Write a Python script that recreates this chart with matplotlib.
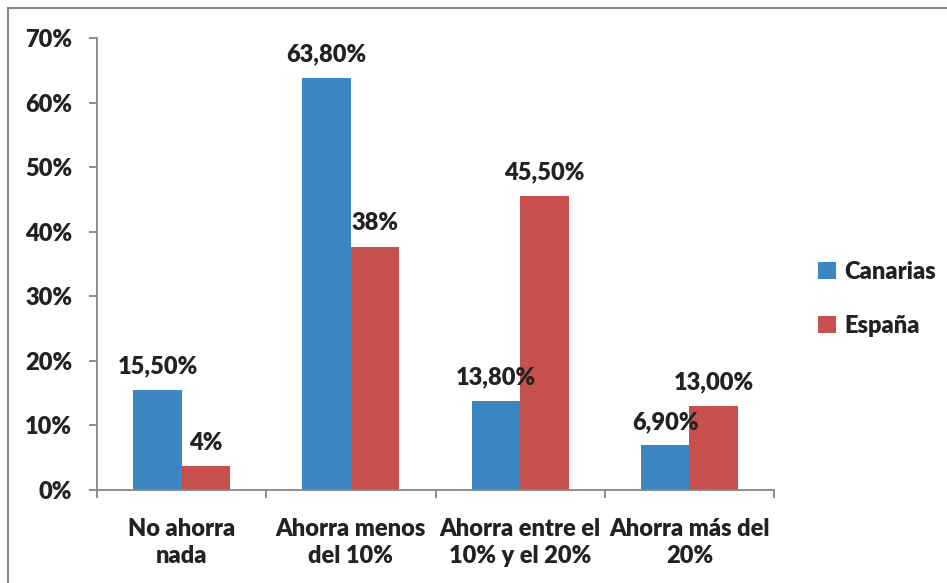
import numpy as np
import matplotlib
matplotlib.use('Agg')
import matplotlib.pyplot as plt
from matplotlib.patches import Rectangle

categories = ['No ahorra\nnada', 'Ahorra menos\ndel 10%', 'Ahorra entre el\n10% y el 20%', 'Ahorra más del\n20%']
canarias = [15.5, 63.8, 13.8, 6.9]
canarias_labels = ['15,50%', '63,80%', '13,80%', '6,90%']
espana = [3.7, 37.7, 45.5, 13.0]
espana_labels = ['4%', '38%', '45,50%', '13,00%']
yticks = [0, 10, 20, 30, 40, 50, 60, 70]

blue = '#3C87C3'
red = '#C8504C'
grey = '#868686'
txt = '#222222'
fs = 17
wt = 'heavy'

plt.rcParams['font.family'] = ['Lato', 'DejaVu Sans']
plt.rcParams['font.weight'] = wt

fig = plt.figure(figsize=(9.47, 5.83), dpi=100)
ax = fig.add_axes([97 / 947, 1 - 490 / 583, (774 - 97) / 947, (490 - 38) / 583])

x = np.arange(len(categories))
w = 0.286
b1 = ax.bar(x - w / 2, canarias, w, color=blue, label='Canarias')
b2 = ax.bar(x + w / 2, espana, w, color=red, label='España')

for bars, labs in ((b1, canarias_labels), (b2, espana_labels)):
    for bar, lab in zip(bars, labs):
        ax.annotate(lab, (bar.get_x() + bar.get_width() / 2, bar.get_height()),
                    xytext=(0, 9), textcoords='offset points',
                    ha='center', va='bottom', fontsize=fs, fontweight=wt, color=txt)

ax.set_xlim(-0.5, len(categories) - 0.5)
ax.set_ylim(0, 70)
ax.set_yticks(yticks)
ax.set_yticklabels([f'{t}%' for t in yticks])
ax.set_xticks(np.arange(len(categories) + 1) - 0.5)
ax.set_xticklabels([])
ax.set_xticks(x, minor=True)
ax.set_xticklabels(categories, minor=True)
ax.tick_params(axis='x', which='minor', length=0, pad=20)
ax.tick_params(axis='x', which='major', direction='out', length=6, width=1.3, color=grey)
ax.tick_params(axis='y', direction='out', length=6, width=1.3, color=grey, pad=12)
for lab in ax.get_yticklabels() + ax.get_xticklabels(minor=True):
    lab.set_fontsize(fs)
    lab.set_fontweight(wt)
    lab.set_color(txt)
for lab in ax.get_xticklabels(minor=True):
    lab.set_linespacing(1.3)

for s in ('top', 'right'):
    ax.spines[s].set_visible(False)
for s in ('left', 'bottom'):
    ax.spines[s].set_color(grey)
    ax.spines[s].set_linewidth(1.3)

leg = fig.legend(handles=[b1, b2], loc='center left', bbox_to_anchor=(797 / 947, 1 - 299 / 583),
                 frameon=False, fontsize=fs, handlelength=0.75, handleheight=0.75,
                 handletextpad=0.35, labelspacing=1.35)
for t in leg.get_texts():
    t.set_color(txt)
    t.set_fontweight(wt)

fig.patches.append(Rectangle((8 / 947, -0.1), 1.2, 1.1 - 8 / 583, transform=fig.transFigure,
                             fill=False, edgecolor='#8a8a8a', linewidth=1.5))

fig.savefig('out.png', dpi=100)
